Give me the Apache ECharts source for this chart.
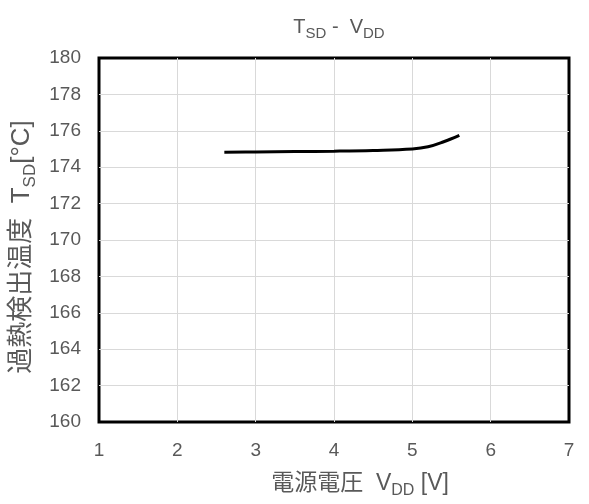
<!DOCTYPE html>
<html>
<head>
<meta charset="utf-8">
<script src="https://cdn.jsdelivr.net/npm/echarts@6/dist/echarts.min.js"></script>
<style>
html,body{margin:0;padding:0;background:#fff;}
#chart{width:589px;height:504px;}
</style>
</head>
<body>
<div id="chart"></div>
<script>
// supply voltage [V]
var vdd = [2.6, 3.0, 3.5, 4.0, 4.5, 5.0, 5.2, 5.4, 5.6];
// thermal shutdown temperature [°C]
var tsd = [174.82, 174.84, 174.86, 174.88, 174.92, 175.0, 175.12, 175.4, 175.75];

var xTicks = [1, 2, 3, 4, 5, 6, 7];
var yTicks = [160, 162, 164, 166, 168, 170, 172, 174, 176, 178, 180];

var points = [];
for (var i = 0; i < vdd.length; i++) {
    points.push([vdd[i], tsd[i]]);
}

var font = '"Liberation Sans", Arial, "Noto Sans CJK JP", sans-serif';
var gray = '#595959';

var myChart = echarts.init(document.getElementById('chart'));
var option = {
    backgroundColor: '#fff',
    animation: false,
    title: {
        text: '{a|T}{s|SD}{a| -  V}{s|DD}',
        left: 334,
        top: 10,
        textAlign: 'center',
        textStyle: {
            rich: {
                a: {fontSize: 20, fontWeight: 'normal', color: gray, fontFamily: font, verticalAlign: 'bottom', lineHeight: 22},
                s: {fontSize: 15, fontWeight: 'normal', color: gray, fontFamily: font, verticalAlign: 'bottom', lineHeight: 15, padding: [0, 0, -4, 0]}
            }
        }
    },
    grid: {
        left: 99,
        right: 20,
        top: 58,
        bottom: 77,
        show: true,
        borderColor: '#000',
        borderWidth: 3,
        containLabel: false
    },
    xAxis: {
        type: 'value',
        min: xTicks[0],
        max: xTicks[xTicks.length - 1],
        interval: 1,
        axisLine: {show: false},
        axisTick: {show: false},
        axisLabel: {color: gray, fontSize: 19, fontFamily: font, margin: 19},
        splitLine: {showMinLine: false, showMaxLine: false, lineStyle: {color: '#d9d9d9', width: 1}},
        name: '{c|電源電圧  V}{s|DD}{c| [V]}',
        nameLocation: 'middle',
        nameGap: 49,
        nameTextStyle: {
            padding: [0, 0, 0, 52],
            rich: {
                c: {fontSize: 23, color: gray, fontFamily: font, verticalAlign: 'bottom', lineHeight: 24},
                s: {fontSize: 16, color: gray, fontFamily: font, verticalAlign: 'bottom', lineHeight: 16, padding: [0, 0, -4, 0]}
            }
        }
    },
    yAxis: {
        type: 'value',
        min: yTicks[0],
        max: yTicks[yTicks.length - 1],
        interval: 2,
        axisLine: {show: false},
        axisTick: {show: false},
        axisLabel: {color: gray, fontSize: 19, fontFamily: font, margin: 18},
        splitLine: {showMinLine: false, showMaxLine: false, lineStyle: {color: '#d9d9d9', width: 1}},
        name: '{c|過熱検出温度  T}{s|SD}{c|[°C]}',
        nameLocation: 'middle',
        nameRotate: 90,
        nameGap: 58,
        nameTextStyle: {
            padding: [0, 14, 0, 0],
            rich: {
                c: {fontSize: 26, color: gray, fontFamily: font, verticalAlign: 'bottom', lineHeight: 24},
                s: {fontSize: 17, color: gray, fontFamily: font, verticalAlign: 'bottom', lineHeight: 16, padding: [0, 0, -4, 0]}
            }
        }
    },
    series: [{
        type: 'line',
        data: points,
        smooth: 0.4,
        showSymbol: false,
        lineStyle: {color: '#000', width: 3}
    }]
};
myChart.setOption(option);
</script>
</body>
</html>
